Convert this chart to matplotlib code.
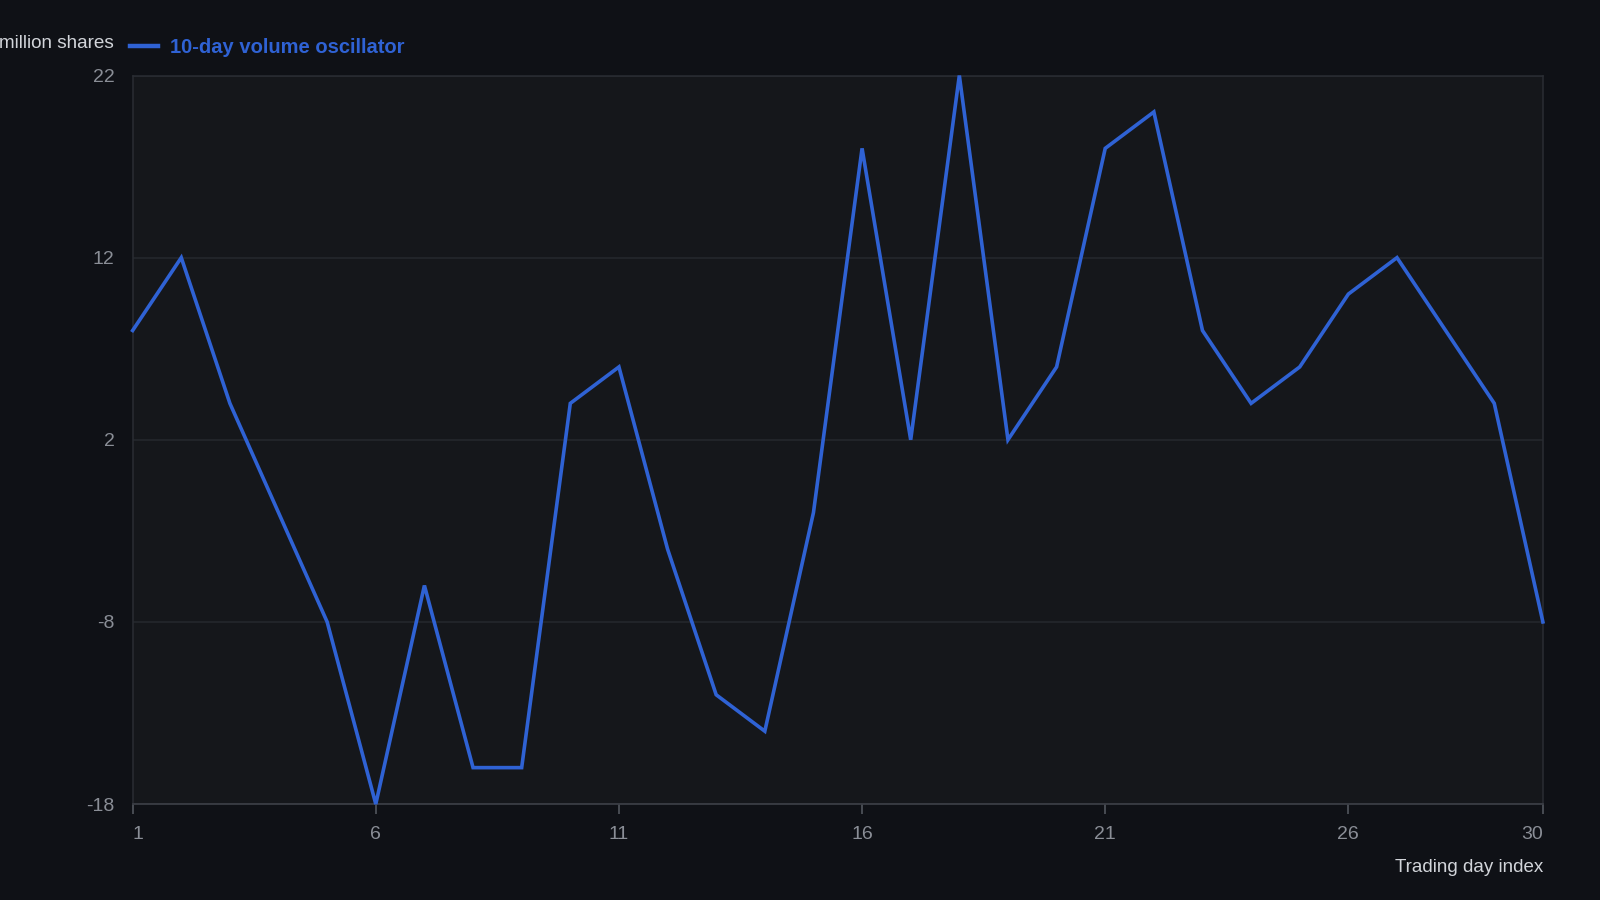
import numpy as np
import matplotlib.pyplot as plt

# data
days = list(range(1, 31))
oscillator = [8, 12, 4, -2, -8, -18, -6, -16, -16, 4,
              6, -4, -12, -14, -2, 18, 2, 22, 2, 6,
              18, 20, 8, 4, 6, 10, 12, 8, 4, -8]
x_ticks = [1, 6, 11, 16, 21, 26, 30]
y_ticks = [-18, -8, 2, 12, 22]

# setting
plt.rcParams["font.family"] = ["Liberation Sans", "DejaVu Sans"]

fig_bg = "#0f1116"
ax_bg = "#15171b"
line_color = "#2f62d4"
tick_color = "#8a8e96"
text_color = "#d2d5da"
grid_color = "#25282e"

fig = plt.figure(figsize=(16, 9), dpi=100, facecolor=fig_bg)
ax = fig.add_axes([0.0829, 0.1066, 0.8814, 0.8095])
ax.set_facecolor(ax_bg)

ax.plot(days, oscillator, color=line_color, linewidth=2.6, solid_joinstyle="miter",
        label="10-day volume oscillator", clip_on=False, zorder=3)

ax.set_xlim(1, 30)
ax.set_ylim(-18, 22)
ax.set_xticks(x_ticks)
ax.set_yticks(y_ticks)
ax.set_xticklabels([str(t) for t in x_ticks], fontsize=14, color=tick_color)
ax.set_yticklabels([str(t) for t in y_ticks], fontsize=14, color=tick_color)
lbls = ax.get_xticklabels()
lbls[0].set_horizontalalignment("left")
lbls[-1].set_horizontalalignment("right")

ax.tick_params(axis="x", direction="out", length=7, width=1.2, color="#52565e", pad=9)
ax.tick_params(axis="y", length=0, pad=13)

ax.grid(axis="y", color=grid_color, linewidth=1.1)
ax.set_axisbelow(True)

for side in ["top", "right", "left"]:
    ax.spines[side].set_color("#2a2d33")
    ax.spines[side].set_linewidth(1.1)
ax.spines["bottom"].set_color("#3a3d44")
ax.spines["bottom"].set_linewidth(1.3)

# y unit label and legend at top left
fig.text(0.0714, 0.952, "million shares", ha="right", va="center", fontsize=13.6, color=text_color)
leg = ax.legend(loc="lower left", bbox_to_anchor=(0.0810, 0.937), bbox_transform=fig.transFigure,
                frameon=False, handlelength=1.4, handletextpad=0.6, borderpad=0, borderaxespad=0,
                prop={"size": 14.5, "weight": "bold"})
for t in leg.get_texts():
    t.set_color(line_color)
for h in leg.get_lines():
    h.set_linewidth(3.2)

fig.text(0.9643, 0.036, "Trading day index", ha="right", va="center", fontsize=13.5, color=text_color)

fig.savefig("out.png", dpi=100, facecolor=fig_bg)
